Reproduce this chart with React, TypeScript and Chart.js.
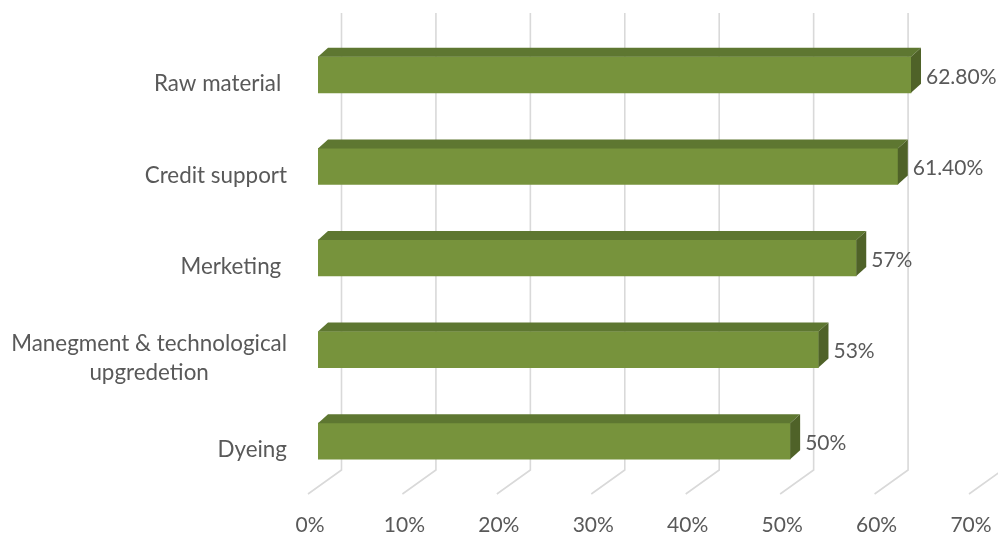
import { useEffect, useRef } from "react";
import { Chart, registerables } from "chart.js";

Chart.register(...registerables);

const categories: string[][] = [
  ["Raw material "],
  ["Credit support"],
  ["Merketing "],
  ["Manegment & technological", "upgredetion"],
  ["Dyeing"],
];
const values: number[] = [62.8, 61.4, 57, 53, 50];
const valueLabels: string[] = ["62.80%", "61.40%", "57%", "53%", "50%"];
const axisMin = 0;
const axisMax = 70;
const axisStep = 10;

const FONT = "Lato";
const NUM_SIZE = 21;
const CAT_SIZE = 22.4;
const TEXT = "#595959";
const GRID = "#D9D9D9";
const FRONT = "#77933C";
const TOP = "#5E7731";
const SIDE = "#4F6228";
const DX = 10;
const DY = 9;

const bar3d = {
  id: "bar3d",
  beforeDatasetsDraw(chart: any) {
    const { ctx, chartArea } = chart;
    const xs = chart.scales.x;
    ctx.save();
    ctx.strokeStyle = GRID;
    ctx.lineWidth = 1.6;
    for (const t of xs.ticks) {
      const px = xs.getPixelForValue(t.value);
      ctx.beginPath();
      ctx.moveTo(px + 23.5, chartArea.top - 16);
      ctx.lineTo(px + 23.5, chartArea.bottom - 17);
      ctx.lineTo(px - 10, chartArea.bottom + 7);
      ctx.stroke();
    }
    ctx.restore();
  },
  afterDatasetsDraw(chart: any) {
    const { ctx } = chart;
    const meta = chart.getDatasetMeta(0);
    ctx.save();
    meta.data.forEach((bar: any) => {
      const { x, y, base, height } = bar.getProps(["x", "y", "base", "height"], true);
      const top = y - height / 2;
      const bottom = y + height / 2;
      ctx.fillStyle = TOP;
      ctx.beginPath();
      ctx.moveTo(base, top);
      ctx.lineTo(x, top);
      ctx.lineTo(x + DX, top - DY);
      ctx.lineTo(base + DX, top - DY);
      ctx.closePath();
      ctx.fill();
      ctx.fillStyle = SIDE;
      ctx.beginPath();
      ctx.moveTo(x, top);
      ctx.lineTo(x + DX, top - DY);
      ctx.lineTo(x + DX, bottom - DY);
      ctx.lineTo(x, bottom);
      ctx.closePath();
      ctx.fill();
    });
    ctx.restore();
  },
  afterDraw(chart: any) {
    const { ctx, chartArea } = chart;
    const ys = chart.scales.y;
    const meta = chart.getDatasetMeta(0);
    ctx.save();
    ctx.fillStyle = TEXT;
    ctx.textBaseline = "middle";
    // category labels
    ctx.font = `${CAT_SIZE}px ${FONT}`;
    const right = chartArea.left - 31;
    categories.forEach((lines, i) => {
      const cy = ys.getPixelForValue(i) + 9;
      const lh = 29;
      const widths = lines.map((l) => ctx.measureText(l).width);
      const bw = Math.max(...widths);
      const cx = right - bw / 2;
      ctx.textAlign = "center";
      lines.forEach((l, j) => {
        const ly = cy + (j - (lines.length - 1) / 2) * lh;
        ctx.fillText(l, cx, ly);
      });
    });
    // value labels
    ctx.font = `${NUM_SIZE}px ${FONT}`;
    ctx.textAlign = "left";
    meta.data.forEach((bar: any, i: number) => {
      const { x, y } = bar.getProps(["x", "y"], true);
      ctx.fillText(valueLabels[i], x + DX + 5, y + 2);
    });
    ctx.restore();
  },
};

export default function App() {
  const ref = useRef<HTMLCanvasElement>(null);
  useEffect(() => {
    if (!ref.current) return;
    const chart = new Chart(ref.current, {
      type: "bar",
      data: {
        labels: categories.map((c) => c.join(" ")),
        datasets: [
          {
            data: values,
            backgroundColor: FRONT,
            borderWidth: 0,
            barThickness: 36,
          },
        ],
      },
      options: {
        indexAxis: "y",
        animation: false,
        responsive: false,
        maintainAspectRatio: false,
        layout: { padding: { left: 318, right: 19, top: 29, bottom: 0 } },
        plugins: { legend: { display: false }, tooltip: { enabled: false } },
        scales: {
          x: {
            min: axisMin,
            max: axisMax,
            grid: { display: false, drawTicks: false },
            border: { display: false },
            afterFit: (s: any) => {
              s.height = 48;
              s.paddingLeft = 0;
              s.paddingRight = 0;
              s.paddingTop = 0;
              s.paddingBottom = 0;
            },
            ticks: {
              stepSize: axisStep,
              maxRotation: 0,
              autoSkip: false,
              labelOffset: -8,
              padding: 28,
              color: TEXT,
              font: { family: FONT, size: NUM_SIZE, lineHeight: 1 },
              callback: (v: any) => `${v}%`,
            },
          },
          y: {
            display: false,
            grid: { display: false },
          },
        },
      },
      plugins: [bar3d],
    });
    return () => chart.destroy();
  }, []);
  return (
    <div style={{ position: "fixed", left: 0, top: 0, width: 998, height: 535, background: "#fff" }}>
      <canvas ref={ref} width={998} height={535} style={{ display: "block" }} />
    </div>
  );
}
